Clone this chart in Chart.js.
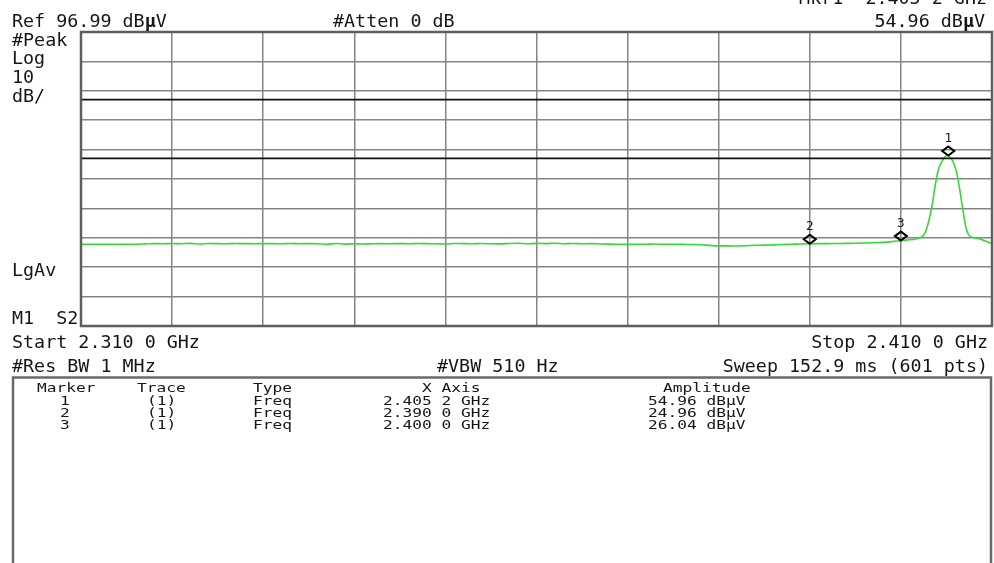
<!DOCTYPE html>
<html><head><meta charset="utf-8">
<script src="https://cdn.jsdelivr.net/npm/chart.js@4/dist/chart.umd.min.js"></script>
<style>html,body{margin:0;padding:0;background:#fff;}canvas{display:block;}</style>
</head><body>
<canvas id="c" width="994" height="563"></canvas>
<script>
// ---- data ----
const freqMHz = [
 2310,2311,2312,2313,2314,2315,2316,2317,2318,2319,
 2320,2321,2322,2323,2324,2325,2326,2327,2328,2329,
 2330,2331,2332,2333,2334,2335,2336,2337,2338,2339,
 2340,2341,2342,2343,2344,2345,2346,2347,2348,2349,
 2350,2351,2352,2353,2354,2355,2356,2357,2358,2359,
 2360,2361,2362,2363,2364,2365,2366,2367,2368,2369,
 2370,2371,2372,2373,2374,2375,2376,2377,2378,2379,
 2380,2381,2382,2383,2384,2385,2386,2387,2388,2389,
 2390,2391,2392,2393,2394,2395,2396,2397,2398,2399,
 2400,2400.5,2401,2401.5,2402,2402.4,2402.7,2403.0,2403.4,2403.75,
 2404.1,2404.5,2404.8,2405.1,2405.4,2405.7,2406.05,2406.4,2406.75,2407.1,
 2407.4,2407.7,2408.2,2408.7,2409.2,2409.6,2410
];
const amplDbuV = [
 24.78,24.80,24.76,24.79,24.81,24.77,24.80,24.92,25.02,24.98,
 25.05,24.99,25.08,24.86,25.03,25.00,24.97,25.04,25.01,24.98,
 25.02,25.00,24.96,25.03,24.99,25.01,24.98,24.82,25.04,24.84,
 24.99,24.86,24.95,25.00,24.97,25.02,24.98,25.04,25.00,24.97,
 24.88,25.06,25.01,24.99,25.03,24.95,24.93,25.05,25.12,24.96,
 25.08,25.02,25.15,24.99,25.04,24.95,25.00,24.90,24.84,24.80,
 24.76,24.82,24.79,24.86,24.78,24.81,24.74,24.70,24.62,24.40,
 24.22,24.25,24.20,24.30,24.45,24.50,24.60,24.70,24.78,24.88,
 24.96,25.00,25.02,25.05,25.08,25.12,25.20,25.30,25.45,25.70,
 26.04,26.20,26.30,26.50,26.90,27.60,29.00,32.00,37.50,44.50,
 50.00,53.00,54.40,54.96,54.40,53.00,50.00,44.50,37.50,31.00,
 28.20,27.30,26.90,26.60,26.00,25.50,25.10
];
const xGridMHz = [2310,2320,2330,2340,2350,2360,2370,2380,2390,2400,2410];
const yGridDbuV = [96.99,86.99,76.99,66.99,56.99,46.99,36.99,26.99,16.99,6.99,-3.01];
const limitLevelsDbuV = [74, 54];
const markerNames = ['1','2','3'];
const markerFreqMHz = [2405.2, 2390.0, 2400.0];
const markerAmplDbuV = [54.96, 24.96, 26.04];

const headerTexts = ['Ref 96.99 dBµV', '#Atten 0 dB', 'Mkr1  2.405 2 GHz', '54.96 dBµV'];
const sideLabels = ['#Peak', 'Log', '10', 'dB/', 'LgAv', 'M1  S2'];
const footerTexts = ['Start 2.310 0 GHz', 'Stop 2.410 0 GHz', '#Res BW 1 MHz', '#VBW 510 Hz', 'Sweep 152.9 ms (601 pts)'];
const tableHeaders = ['Marker', 'Trace', 'Type', 'X Axis', 'Amplitude'];
const tableTrace = ['(1)', '(1)', '(1)'];
const tableType = ['Freq', 'Freq', 'Freq'];
const tableXAxis = ['2.405 2 GHz', '2.390 0 GHz', '2.400 0 GHz'];
const tableAmpl = ['54.96 dBµV', '24.96 dBµV', '26.04 dBµV'];

// ---- drawing ----
const FONT = '"DejaVu Sans Mono", "Liberation Mono", monospace';
function drawText(ctx, str, x, y, o) {
  o = o || {};
  const size = o.size || 18, sx = o.sx || 1, align = o.align || 'left';
  ctx.save();
  ctx.fillStyle = o.color || '#151515';
  ctx.textBaseline = 'alphabetic';
  ctx.textAlign = 'left';
  ctx.font = size + 'px ' + FONT;
  const w = ctx.measureText(str).width * sx;
  let x0 = align === 'right' ? x - w : align === 'center' ? x - w / 2 : x;
  ctx.translate(x0, y);
  ctx.scale(sx, 1);
  if (o.boldMu) {
    let cx = 0;
    const parts = str.split(/(µ)/);
    for (const p of parts) {
      if (!p) continue;
      ctx.font = (p === 'µ' ? 'bold ' : '') + size + 'px ' + FONT;
      ctx.fillText(p, cx, 0);
      ctx.font = size + 'px ' + FONT;
      cx += ctx.measureText(p).width;
    }
  } else {
    ctx.fillText(str, 0, 0);
  }
  ctx.restore();
}

const framePlugin = {
  id: 'frame',
  afterDatasetsDraw(chart) {
    const ctx = chart.ctx, a = chart.chartArea;
    const xs = chart.scales.x, ys = chart.scales.y;
    // markers
    ctx.save();
    ctx.strokeStyle = '#000';
    ctx.lineWidth = 2;
    for (let i = 0; i < markerNames.length; i++) {
      const px = xs.getPixelForValue(markerFreqMHz[i]);
      const py = ys.getPixelForValue(markerAmplDbuV[i]);
      const cy = py - 4.5;
      ctx.beginPath();
      ctx.moveTo(px, cy - 4.5);
      ctx.lineTo(px + 6, cy);
      ctx.lineTo(px, cy + 4.5);
      ctx.lineTo(px - 6, cy);
      ctx.closePath();
      ctx.stroke();
      drawText(ctx, markerNames[i], px, cy - 9, {size: 11.5, align: 'center', sx: 1.1});
    }
    ctx.restore();
    // frame
    ctx.save();
    ctx.strokeStyle = '#5e5e5e';
    ctx.lineWidth = 2.5;
    ctx.strokeRect(a.left, a.top, a.right - a.left, a.bottom - a.top);
    ctx.restore();
  },
  afterDraw(chart) {
    const ctx = chart.ctx;
    const big = {size: 18, sx: 1.02};
    drawText(ctx, headerTexts[0], 12, 27, Object.assign({boldMu: true}, big));
    drawText(ctx, headerTexts[1], 333, 27, big);
    drawText(ctx, headerTexts[2], 987, 4, Object.assign({align: 'right'}, big));
    drawText(ctx, headerTexts[3], 985, 27, Object.assign({align: 'right', boldMu: true}, big));
    const sideY = [46, 64, 83, 102, 276, 324];
    sideLabels.forEach((t, i) => drawText(ctx, t, 12, sideY[i], big));
    drawText(ctx, footerTexts[0], 12, 348, big);
    drawText(ctx, footerTexts[1], 988, 348, Object.assign({align: 'right'}, big));
    drawText(ctx, footerTexts[2], 12, 372, big);
    drawText(ctx, footerTexts[3], 437, 372, big);
    drawText(ctx, footerTexts[4], 988, 372, Object.assign({align: 'right'}, big));
    // marker table box
    ctx.save();
    ctx.strokeStyle = '#6a6a6a';
    ctx.lineWidth = 2.5;
    ctx.strokeRect(13, 377.5, 978, 200);
    ctx.restore();
    const sm = {size: 12, sx: 1.35};
    drawText(ctx, tableHeaders[0], 37, 392, sm);
    drawText(ctx, tableHeaders[1], 137, 392, sm);
    drawText(ctx, tableHeaders[2], 253, 392, sm);
    drawText(ctx, tableHeaders[3], 422, 392, sm);
    drawText(ctx, tableHeaders[4], 663, 392, sm);
    const rowY = [405, 417, 429];
    for (let i = 0; i < 3; i++) {
      drawText(ctx, markerNames[i], 65, rowY[i], Object.assign({align: 'center'}, sm));
      drawText(ctx, tableTrace[i], 147, rowY[i], sm);
      drawText(ctx, tableType[i], 253, rowY[i], sm);
      drawText(ctx, tableXAxis[i], 383, rowY[i], sm);
      drawText(ctx, tableAmpl[i], 648, rowY[i], sm);
    }
  }
};

const tracePts = freqMHz.map((f, i) => ({x: f, y: amplDbuV[i]}));
const limitSets = limitLevelsDbuV.map(v => ({
  data: [{x: xGridMHz[0], y: v}, {x: xGridMHz[xGridMHz.length - 1], y: v}],
  borderColor: '#111', borderWidth: 1.6, pointRadius: 0, tension: 0
}));

new Chart(document.getElementById('c'), {
  type: 'line',
  data: {
    datasets: [
      ...limitSets,
      {data: tracePts, borderColor: '#35d835', borderWidth: 1.6, pointRadius: 0,
       cubicInterpolationMode: 'monotone'}
    ]
  },
  options: {
    responsive: false,
    devicePixelRatio: 1,
    animation: false,
    events: [],
    layout: {padding: {left: 81, top: 32, right: 2, bottom: 237}},
    plugins: {legend: {display: false}, tooltip: {enabled: false}},
    scales: {
      x: {
        type: 'linear', min: xGridMHz[0], max: xGridMHz[xGridMHz.length - 1],
        afterBuildTicks: s => { s.ticks = xGridMHz.map(v => ({value: v})); },
        ticks: {display: false},
        grid: {color: '#858585', lineWidth: 1.5, drawTicks: false},
        border: {display: false}
      },
      y: {
        type: 'linear', min: yGridDbuV[yGridDbuV.length - 1], max: yGridDbuV[0],
        afterBuildTicks: s => { s.ticks = yGridDbuV.map(v => ({value: v})); },
        ticks: {display: false},
        grid: {color: '#858585', lineWidth: 1.5, drawTicks: false},
        border: {display: false}
      }
    }
  },
  plugins: [framePlugin]
});
</script>
</body></html>
